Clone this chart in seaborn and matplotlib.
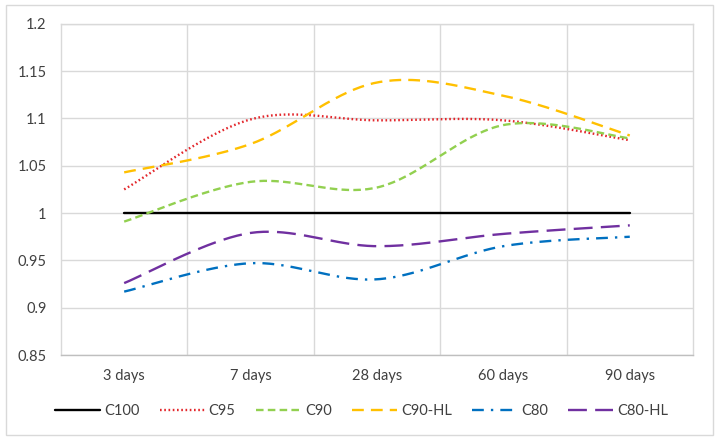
import seaborn as sns
import matplotlib.pyplot as plt
import pandas as pd
import numpy as np

categories = ["3 days", "7 days", "28 days", "60 days", "90 days"]
c100 = [1.000, 1.000, 1.000, 1.000, 1.000]
c95 = [1.025, 1.099, 1.098, 1.098, 1.077]
c90 = [0.991, 1.033, 1.027, 1.093, 1.079]
c90_hl = [1.043, 1.073, 1.138, 1.124, 1.082]
c80 = [0.917, 0.947, 0.930, 0.965, 0.975]
c80_hl = [0.926, 0.979, 0.965, 0.978, 0.987]

series = {"C100": c100, "C95": c95, "C90": c90,
          "C90-HL": c90_hl, "C80": c80, "C80-HL": c80_hl}
colors = {"C100": "#000000", "C95": "#e3262b", "C90": "#92d050",
          "C90-HL": "#ffc000", "C80": "#0070c0", "C80-HL": "#7030a0"}
dashes = {"C100": None, "C95": (0.7, 1.1), "C90": (3.2, 1.8),
          "C90-HL": (5, 3), "C80": (5, 3, 1, 3), "C80-HL": (8, 3.5)}


def smooth(y, n=40):
    # Excel-style bezier smoothing through the points
    y = np.asarray(y, dtype=float)
    x = np.arange(len(y), dtype=float)
    px = np.concatenate([[x[0]], x, [x[-1]]])
    py = np.concatenate([[y[0]], y, [y[-1]]])
    xs, ys = [], []
    for i in range(len(y) - 1):
        p0 = np.array([px[i + 1], py[i + 1]])
        p3 = np.array([px[i + 2], py[i + 2]])
        c1 = p0 + (p3 - np.array([px[i], py[i]])) / 6
        c2 = p3 - (np.array([px[i + 3], py[i + 3]]) - p0) / 6
        t = np.linspace(0, 1, n)[:, None]
        pts = ((1 - t) ** 3) * p0 + 3 * ((1 - t) ** 2) * t * c1 \
            + 3 * (1 - t) * t ** 2 * c2 + t ** 3 * p3
        if i > 0:
            pts = pts[1:]
        xs.extend(pts[:, 0])
        ys.extend(pts[:, 1])
    return np.array(xs), np.array(ys)


sns.set_style("white")
plt.rcParams['font.family'] = ['Lato', 'DejaVu Sans']

fig = plt.figure(figsize=(7.19, 4.41), dpi=100)
ax = fig.add_axes([0.0848, 0.195, 0.879, 0.751])

for name, vals in series.items():
    sx, sy = smooth(vals)
    df = pd.DataFrame({"x": sx, "y": sy})
    kw = {}
    if dashes[name] is not None:
        kw["dashes"] = dashes[name]
    sns.lineplot(data=df, x="x", y="y", ax=ax, color=colors[name],
                 linewidth=1.7, estimator=None, sort=False, label=name, **kw)

ax.set_xlim(-0.5, len(categories) - 0.5)
ax.set_ylim(0.85, 1.2)
ax.set_yticks(np.arange(0.85, 1.201, 0.05))
ax.set_yticklabels(["0.85", "0.9", "0.95", "1", "1.05", "1.1", "1.15", "1.2"])
ax.set_xticks(range(len(categories)))
ax.set_xticklabels(categories)
ax.set_xticks(np.arange(0.5, len(categories) - 1, 1), minor=True)
ax.grid(True, axis="y", which="major", color="#d9d9d9", linewidth=1)
ax.grid(True, axis="x", which="minor", color="#d9d9d9", linewidth=1)
ax.grid(False, axis="x", which="major")
ax.tick_params(axis="both", which="both", length=0, labelsize=10.5,
               colors="#404040")
ax.tick_params(axis="y", pad=10.5)
ax.tick_params(axis="x", pad=10)
ax.set_xlabel("")
ax.set_ylabel("")
for s in ax.spines.values():
    s.set_color("#d9d9d9")
    s.set_linewidth(1)
ax.spines["bottom"].set_color("#bfbfbf")

handles, labels = ax.get_legend_handles_labels()
ax.legend_.remove()
fig.legend(handles, labels, loc="center", bbox_to_anchor=(0.503, 0.067),
           ncol=6, frameon=False, fontsize=10.5, handlelength=3.1,
           columnspacing=1.4, handletextpad=0.25, labelcolor="#404040")

fig.patches.append(plt.Rectangle((6 / 719, 6 / 441), 707 / 719, 430 / 441,
                                 transform=fig.transFigure, fill=False,
                                 edgecolor="#d9d9d9", linewidth=1))

fig.savefig("out.png", dpi=100)
